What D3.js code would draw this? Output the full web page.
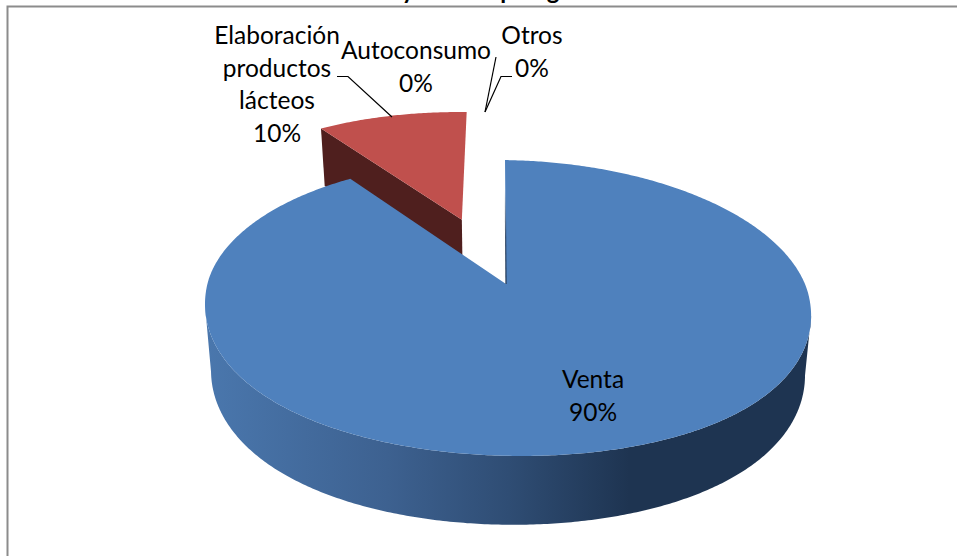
<!DOCTYPE html>
<html><head><meta charset="utf-8">
<script src="https://cdnjs.cloudflare.com/ajax/libs/d3/7.8.5/d3.min.js"></script>
<style>html,body{margin:0;padding:0;background:#fff;overflow:hidden}svg{display:block}text{font-family:Lato,"Open Sans",sans-serif;fill:#000}</style>
</head><body><svg id="c" width="957" height="556"></svg>
<script>
const categories = ["Venta","Elaboración productos lácteos","Autoconsumo","Otros"];
const values = [90,10,0,0];
const percentLabels = ["90%","10%","0%","0%"];
const explosion = [0,0.5,0,0];
const titleGlyphs = ["y","p","g"];

const W=957,H=556;
const cx=506, cy=284, A=299, B=144, p=0.162, q=0.006, shear=0.0165;
const svg=d3.select("#c");
const defs=svg.append("defs");
const grad=defs.append("linearGradient").attr("id","wall").attr("gradientUnits","userSpaceOnUse")
  .attr("x1",206).attr("x2",811).attr("y1",0).attr("y2",0);
[[0,"#4a77ad"],[0.3,"#3d6190"],[0.5,"#2f4d74"],[0.7,"#1e3451"],[1,"#1e3451"]].forEach(s=>grad.append("stop").attr("offset",s[0]).attr("stop-color",s[1]));
const edge=defs.append("linearGradient").attr("id","edge").attr("gradientUnits","userSpaceOnUse")
  .attr("x1",0).attr("x2",0).attr("y1",190).attr("y2",284);
[[0,"#1d3351",0],[0.5,"#1d3351",0.8],[1,"#1d3351",1]].forEach(s=>edge.append("stop").attr("offset",s[0]).attr("stop-color",s[1]).attr("stop-opacity",s[2]));

function proj(u,v,low){
  const w=1+p*v-q*u;
  let X=A*u/w, Y=-B*v/w;
  const r=Math.hypot(u,v)||1;
  Y+=12*(u*u)*Math.max(0,-v)/(r*r*r);
  Y+=X*shear;
  X+=Y*0.008;
  if(low){X*=0.98; Y-=X*0.012; Y+=62*Math.pow(w,-0.6);}
  return [cx+X,cy+Y];
}
const pie=d3.pie().sort(null).value(d=>d).startAngle(0).endAngle(2*Math.PI);
const arcs=pie(values);
const line=d3.line();
function center(i,a){const m=(a.startAngle+a.endAngle)/2-0.006,e=explosion[i];return [e*Math.sin(m),e*Math.cos(m)];}
function angles(a){
  const n=Math.max(2,Math.ceil((a.endAngle-a.startAngle)/0.01));
  return d3.range(n+1).map(k=>a.startAngle+(a.endAngle-a.startAngle)*k/n);
}
const pt=(c,t,low)=>proj(c[0]+Math.sin(t),c[1]+Math.cos(t),low);
const colors=[{top:"#4f81bd",face:"#1d3351",wall:"url(#wall)"},{top:"#c0504d",face:"#4f1f1e",wall:"#4f1f1e"}];
function drawSlice(i){
  const a=arcs[i]; if(a.endAngle-a.startAngle<=0) return;
  const c=center(i,a), col=colors[i], as=angles(a);
  const t=as.map(x=>pt(c,x,false)), b=as.map(x=>pt(c,x,true));
  const ct=proj(c[0],c[1],false), cb=proj(c[0],c[1],true);
  const g=svg.append("g");
  if(i===1) g.append("path").attr("d",line([ct,t[0],b[0],cb])+"Z").attr("fill",col.face);
  const front=as.filter(x=>Math.cos(x)<-p);
  if(front.length){
    const ft=front.map(x=>pt(c,x,false)), fb=front.map(x=>pt(c,x,true)).reverse();
    g.append("path").attr("d",line(ft.concat(fb))+"Z").attr("fill",col.wall);
  }
  g.append("path").attr("d",line([ct].concat(t))+"Z").attr("fill",col.top);
  if(i===0) g.append("path").attr("d",line([ct,t[0]])).attr("fill","none").attr("stroke","url(#edge)").attr("stroke-width",1.2);
}
drawSlice(1);
drawSlice(0);

// chart frame
svg.append("path").attr("d",line([[7.5,H],[7.5,6.5],[W,6.5]])).attr("fill","none").attr("stroke","#8c8c8c").attr("stroke-width",2);

// title (only the descenders are visible in the frame's top strip)
const titleX=[408,507,553];
const tg=svg.append("g").attr("font-weight",700).attr("font-size",24);
titleGlyphs.forEach((g,i)=>tg.append("text").attr("x",titleX[i]).attr("y",-1).attr("text-anchor","middle").text(g));

// labels
const fs=24.5, lh=32.5;
const labelSpec=[
 {i:0,x:593,y:388,lines:["Venta"]},
 {i:1,x:277,y:44,lines:["Elaboración","productos","lácteos"]},
 {i:2,x:416,y:59,lines:["Autoconsumo"]},
 {i:3,x:532,y:44,lines:["Otros"]}
];
labelSpec.forEach(s=>{
  const lines=s.lines.concat(percentLabels[s.i]);
  const t=svg.append("text").attr("text-anchor","middle").attr("font-size",fs);
  lines.forEach((l,k)=>t.append("tspan").attr("x",s.x).attr("y",s.y+k*lh).text(l));
});
// leaders
[[[337,76.5],[348,76.5],[392,117]],[[496,57],[485,112]],[[512,76.5],[501,76.5],[485,112]]].forEach(l=>
  svg.append("path").attr("d",line(l)).attr("fill","none").attr("stroke","#000").attr("stroke-width",1.2));
</script></body></html>
